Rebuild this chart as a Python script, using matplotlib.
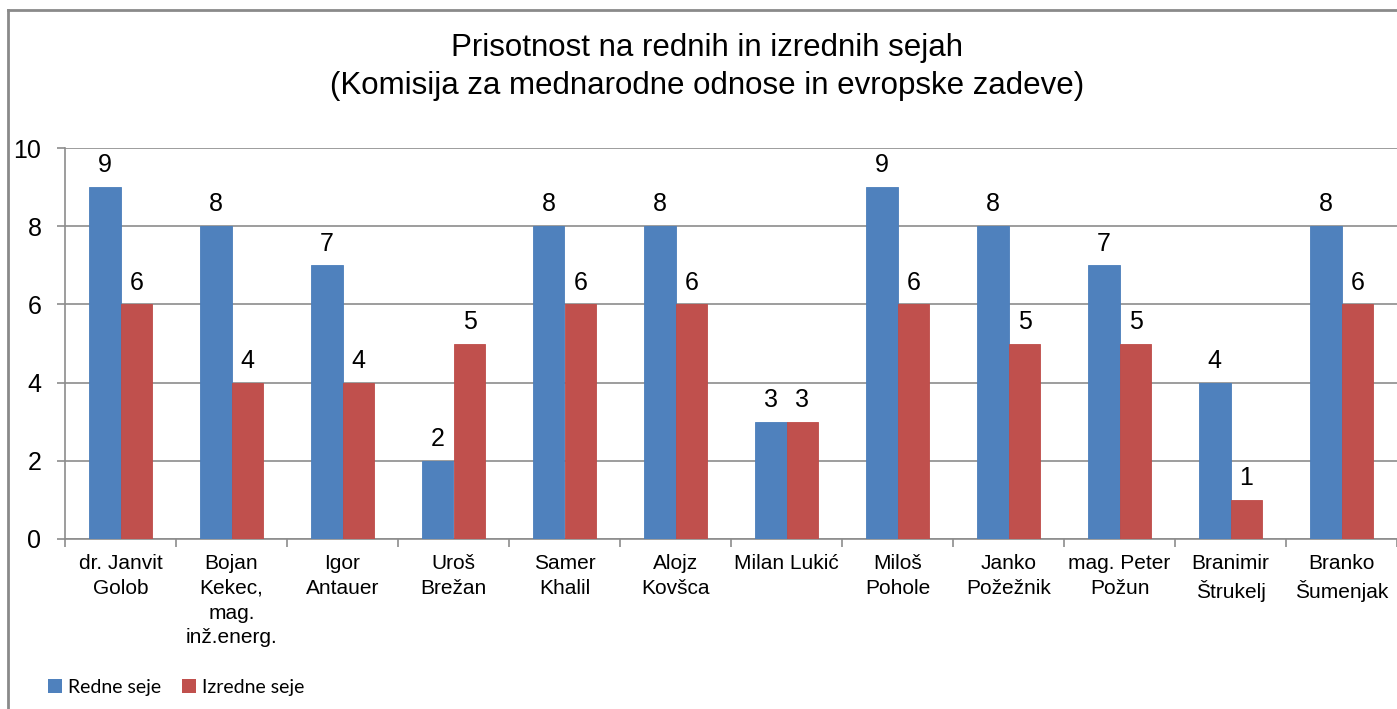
import numpy as np
import matplotlib.pyplot as plt
from matplotlib.lines import Line2D
from matplotlib.patches import Patch

names = ["dr. Janvit\nGolob", "Bojan\nKekec,\nmag.\ninž.energ.", "Igor\nAntauer",
         "Uroš\nBrežan", "Samer\nKhalil", "Alojz\nKovšca", "Milan Lukić",
         "Miloš\nPohole", "Janko\nPožežnik", "mag. Peter\nPožun",
         "Branimir\nŠtrukelj", "Branko\nŠumenjak"]
redne = [9, 8, 7, 2, 8, 8, 3, 9, 8, 7, 4, 8]
izredne = [6, 4, 4, 5, 6, 6, 3, 6, 5, 5, 1, 6]

blue = '#4F81BD'
red = '#C0504D'
grid_c = '#8C8C8C'

plt.rcParams['font.family'] = ['Liberation Sans', 'DejaVu Sans']

fig = plt.figure(figsize=(13.97, 7.09), dpi=100)
ax = fig.add_axes([65/1397, 1-539/709, 1-65/1397, (539-148)/709])

x = np.arange(len(names))
w = 0.288
b1 = ax.bar(x - w/2, redne, w, color=blue, edgecolor='#4A7EBB', linewidth=0.6, zorder=3)
b2 = ax.bar(x + w/2, izredne, w, color=red, edgecolor='#BE4B48', linewidth=0.6, zorder=3)

for bars, vals in ((b1, redne), (b2, izredne)):
    for r, v in zip(bars, vals):
        ax.annotate(str(v), (r.get_x() + r.get_width()/2, v), xytext=(0, 7),
                    textcoords='offset points', ha='center', va='bottom', fontsize=18)

ax.set_xlim(-0.5, len(names) - 0.5)
ax.set_ylim(0, 10)
ax.set_yticks(np.arange(0, 11, 2))
ax.tick_params(axis='y', labelsize=18, length=6, color=grid_c, width=1.2, pad=11)
ax.yaxis.grid(True, color=grid_c, linewidth=1.2, zorder=0)
ax.set_axisbelow(True)

# category labels between the boundary ticks
ax.set_xticks(x)
ax.set_xticklabels(names, fontsize=15, linespacing=1.38)
ax.tick_params(axis='x', length=0, pad=11)
ax.set_xticks(np.arange(-0.5, len(names), 1), minor=True)
ax.tick_params(axis='x', which='minor', length=6, color=grid_c, width=1.2)

for s in ['top', 'right']:
    ax.spines[s].set_visible(False)
ax.spines['left'].set_color(grid_c)
ax.spines['bottom'].set_color(grid_c)
ax.spines['left'].set_linewidth(1.2)
ax.spines['bottom'].set_linewidth(1.2)

fig.text(707/1397, 1-67/709, "Prisotnost na rednih in izrednih sejah\n(Komisija za mednarodne odnose in evropske zadeve)",
         ha='center', va='center', fontsize=22.5, linespacing=1.38)

# chart frame (left and top edges visible)
fig.add_artist(Line2D([8/1397, 8/1397], [0, 1-10/709], color='#8A8A8A', linewidth=2))
fig.add_artist(Line2D([8/1397, 1], [1-10/709, 1-10/709], color='#8A8A8A', linewidth=2))

handles = [Patch(facecolor=blue, label='Redne seje'), Patch(facecolor=red, label='Izredne seje')]
fig.legend(handles=handles, loc='center left', bbox_to_anchor=(31/1397, 1-687/709),
           ncol=2, frameon=False, handlelength=0.7, handleheight=0.7,
           handletextpad=0.3, columnspacing=1.1, prop={'family': 'Lato', 'size': 14})

fig.savefig('out.png', dpi=100)
